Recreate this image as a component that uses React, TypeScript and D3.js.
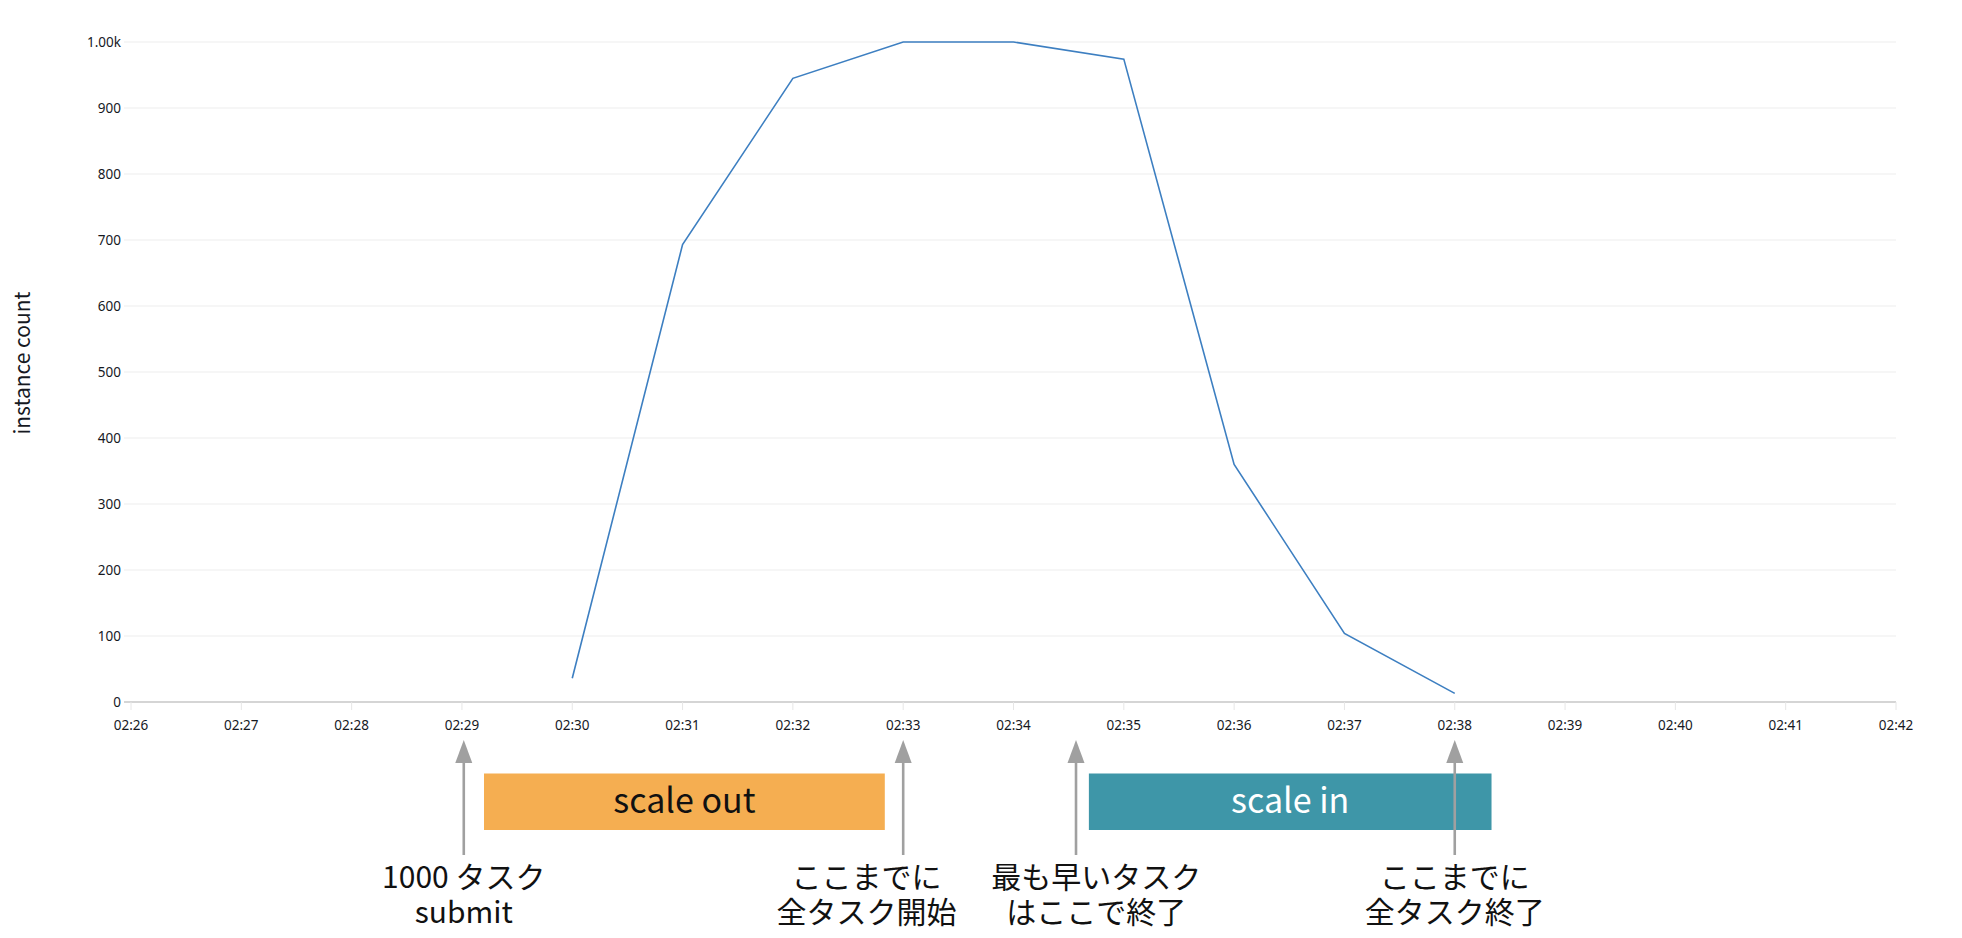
import React from "react";
import * as d3 from "d3";

const W = 1962;
const H = 938;

// data
const pointTimes = ["02:30", "02:31", "02:32", "02:33", "02:34", "02:35", "02:36", "02:37", "02:38"];
const instanceCounts = [36, 693, 945, 1000, 1000, 974, 360, 104, 13];
const xTickLabels = ["02:26", "02:27", "02:28", "02:29", "02:30", "02:31", "02:32", "02:33", "02:34", "02:35", "02:36", "02:37", "02:38", "02:39", "02:40", "02:41", "02:42"];
const yTickValues = [0, 100, 200, 300, 400, 500, 600, 700, 800, 900, 1000];
const yTickLabels = ["0", "100", "200", "300", "400", "500", "600", "700", "800", "900", "1.00k"];
const yTitle = "instance count";

// annotations
const arrowTimes = ["02:29:01", "02:33:00", "02:34:34", "02:38:00"];
const labelTimes = ["02:29:01", "02:32:40", "02:34:45", "02:38:00"];
const labelLines1 = ["1000 タスク", "ここまでに", "最も早いタスク", "ここまでに"];
const labelLines2 = ["submit", "全タスク開始", "はここで終了", "全タスク終了"];
const phaseNames = ["scale out", "scale in"];
const phaseStarts = ["02:29:12", "02:34:41"];
const phaseEnds = ["02:32:50", "02:38:20"];
const phaseFills = ["#f5ae51", "#3e96a8"];
const phaseTextFills = ["#111111", "#ffffff"];

const parseHM = d3.timeParse("%H:%M");
const parseHMS = d3.timeParse("%H:%M:%S");

export default function App() {
  const x = d3
    .scaleTime()
    .domain([parseHM(xTickLabels[0])!, parseHM(xTickLabels[xTickLabels.length - 1])!])
    .range([131, 1896]);
  const y = d3.scaleLinear().domain([0, 1000]).range([702, 42]);

  const series = pointTimes.map((t, i) => ({ t: parseHM(t)!, v: instanceCounts[i] }));
  const line = d3
    .line<{ t: Date; v: number }>()
    .x((d) => x(d.t))
    .y((d) => y(d.v));

  const tickFont = "'Noto Sans', 'DejaVu Sans', sans-serif";
  const jpFont = "'Noto Sans CJK JP', 'Noto Sans', sans-serif";

  const tipY = 740;
  const headBase = 763;
  const lineBottom = 855;

  return (
    <svg
      width={W}
      height={H}
      style={{ position: "absolute", left: 0, top: 0, background: "#ffffff" }}
    >
      {/* gridlines */}
      {yTickValues.map((v, i) =>
        v === 0 ? null : (
          <line key={"g" + i} x1={124} x2={1896} y1={y(v)} y2={y(v)} stroke="#eeeeee" strokeWidth={1.2} />
        )
      )}
      {/* y tick labels */}
      {yTickValues.map((v, i) => (
        <text
          key={"yl" + i}
          x={121}
          y={y(v)}
          dy="0.35em"
          textAnchor="end"
          fontFamily={tickFont}
          fontSize={13.5}
          fill="#16191f"
        >
          {yTickLabels[i]}
        </text>
      ))}
      {/* x axis */}
      <line x1={124} x2={1896} y1={y(0)} y2={y(0)} stroke="#d5d5d5" strokeWidth={2} />
      {xTickLabels.map((t, i) => {
        const xx = x(parseHM(t)!);
        return (
          <g key={"xt" + i}>
            <line x1={xx} x2={xx} y1={y(0)} y2={y(0) + 8} stroke="#e6e6e6" strokeWidth={1} />
            <text
              x={xx}
              y={729.5}
              textAnchor="middle"
              fontFamily={tickFont}
              fontSize={13.5}
              fill="#16191f"
            >
              {t}
            </text>
          </g>
        );
      })}
      {/* y title */}
      <text
        transform={`translate(30,363) rotate(-90)`}
        textAnchor="middle"
        fontFamily={jpFont}
        fontSize={21}
        fill="#16191f"
      >
        {yTitle}
      </text>
      {/* data line */}
      <path d={line(series) || ""} fill="none" stroke="#3d7fc1" strokeWidth={1.6} />

      {/* phases */}
      {phaseNames.map((name, i) => {
        const x0 = x(parseHMS(phaseStarts[i])!);
        const x1 = x(parseHMS(phaseEnds[i])!);
        return (
          <g key={"p" + i}>
            <rect x={x0} y={773.5} width={x1 - x0} height={56.5} fill={phaseFills[i]} />
            <text
              x={(x0 + x1) / 2}
              y={813}
              textAnchor="middle"
              fontFamily={jpFont}
              fontSize={34}
              fill={phaseTextFills[i]}
            >
              {name}
            </text>
          </g>
        );
      })}

      {/* arrows */}
      {arrowTimes.map((t, i) => {
        const ax = x(parseHMS(t)!);
        const lx = x(parseHMS(labelTimes[i])!);
        return (
          <g key={"a" + i}>
            <line x1={ax} x2={ax} y1={headBase - 1} y2={lineBottom} stroke="#a0a0a0" strokeWidth={2.6} />
            <path d={`M${ax},${tipY} L${ax - 8.5},${headBase} L${ax + 8.5},${headBase} Z`} fill="#a0a0a0" />
            <text x={lx} y={888} textAnchor="middle" fontFamily={jpFont} fontSize={30} fill="#111111">
              {labelLines1[i]}
            </text>
            <text x={lx} y={923} textAnchor="middle" fontFamily={jpFont} fontSize={30} fill="#111111">
              {labelLines2[i]}
            </text>
          </g>
        );
      })}
    </svg>
  );
}
